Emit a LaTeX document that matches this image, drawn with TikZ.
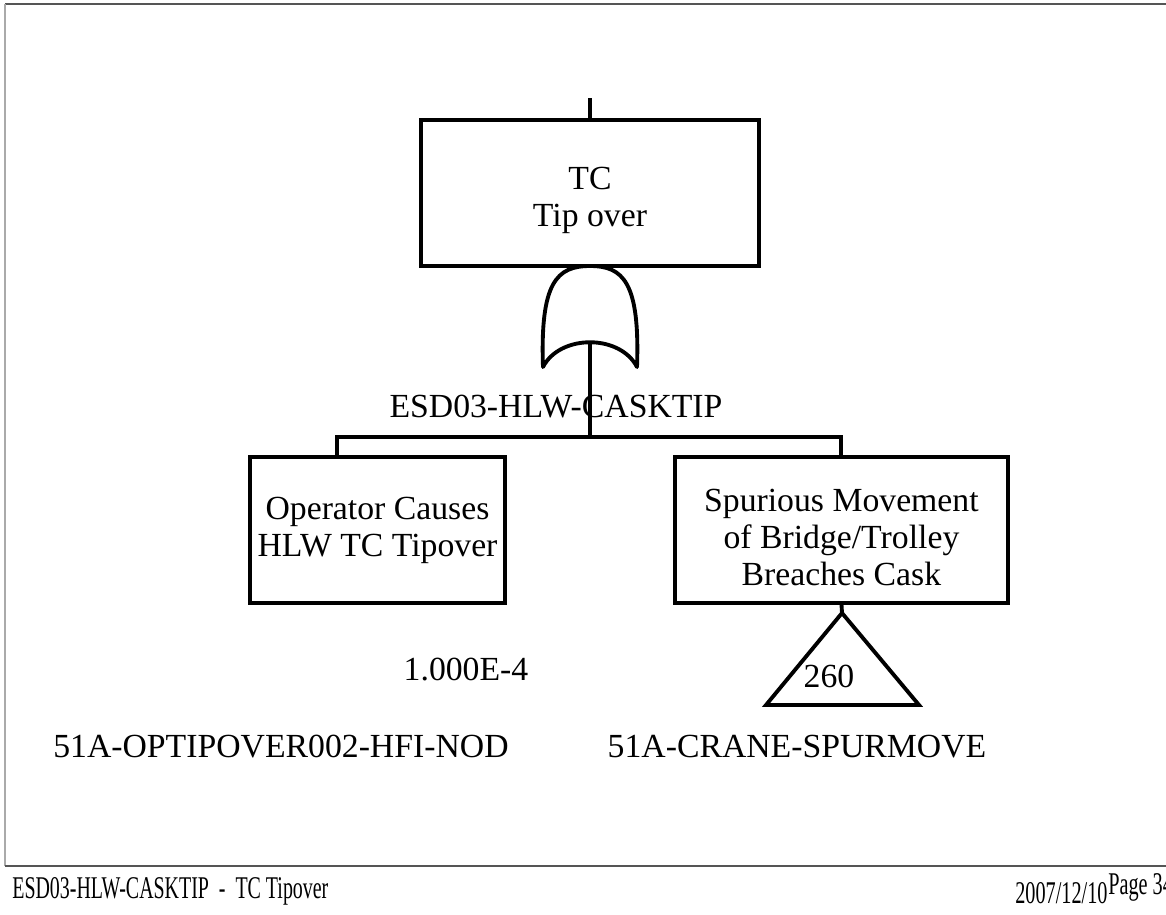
\documentclass[tikz,border=0pt]{standalone}
\usepackage{fontspec}
\setmainfont{Liberation Serif}
\usetikzlibrary{positioning}
\definecolor{framegray}{HTML}{555555}
\definecolor{sidegray}{HTML}{AAAAAA}
\newcommand{\lowtext}{\rule{0pt}{21pt}}

\begin{document}
\begin{tikzpicture}[
  x=0.02cm, y=-0.02cm,
  every node/.style={font=\fontsize{19.2}{21}\selectfont},
  evt/.style={draw,line width=2.2pt,outer sep=0pt,minimum height=2.92cm,align=center,inner sep=0pt},
  wire/.style={line width=2.2pt},
  lbl/.style={anchor=base,inner sep=0pt},
  foot/.style={anchor=base west,inner sep=0pt,font=\fontsize{18}{20}\selectfont}
]
\useasboundingbox (0,0) rectangle (1166,914);
% page frame
\draw[framegray,line width=0.9pt] (5,4) -- (1166,4);
\draw[sidegray,line width=1pt] (5,4) -- (5,866);
\draw[framegray,line width=0.8pt] (5,866) -- (1166,866);

% events
\node[evt,minimum width=6.76cm] (tc) at (590,193) {\lowtext TC\\Tip over};
\node[evt,minimum width=5.1cm] (op) at (377.5,530) {Operator Causes\\HLW TC Tipover};
\node[evt,minimum width=6.66cm,right=3.4cm of op] (sp) {\lowtext Spurious Movement\\of Bridge/Trolley\\Breaches Cask};

\coordinate (top) at (590,98);
\draw[wire] (top) -- (tc.north);

% or gate
\coordinate (gl) at (543,367);
\coordinate (gr) at (637,367);
\coordinate (gin) at (590,342);
\coordinate (bar) at (590,437);
\coordinate (opin) at (337,457);
\draw[wire,line join=round] (gl) .. controls (540,282) and (557,266) .. (tc.south)
  .. controls (623,266) and (640,282) .. (gr)
  .. controls (620,334) and (560,334) .. (gl) -- cycle;
\draw[wire] (gin) -- (bar);
\draw[wire] (opin) |- (bar) -| (sp.north);

% transfer
\coordinate (tri) at (842,613);
\coordinate (tril) at (766,705);
\coordinate (trir) at (919,705);
\draw[wire] (sp.south) -- (tri);
\draw[wire,line join=miter] (tri) -- (tril) -- (trir) -- cycle;
\node (n260) at (829,676) {260};

% labels
\node[lbl] (gname) at (556,417) {ESD03-HLW-CASKTIP};
\node[lbl] (prob) at (466,680) {1.000E-4};
\node[lbl] (opname) at (281,757) {51A-OPTIPOVER002-HFI-NOD};
\node[lbl] (spname) at (797,757) {51A-CRANE-SPURMOVE};

% footer
\node[foot] (ftitle) at (12,898) {\scalebox{0.63}[1]{ESD03-HLW-CASKTIP\ \ -\ \ TC Tipover}};
\node[foot] (fdate) at (1015,903) {\scalebox{0.64}[1]{2007/12/10}};
\node[foot] (fpage) at ([yshift=0.18cm]fdate.base east) {\scalebox{0.64}[1]{Page 34}};
\end{tikzpicture}
\end{document}
